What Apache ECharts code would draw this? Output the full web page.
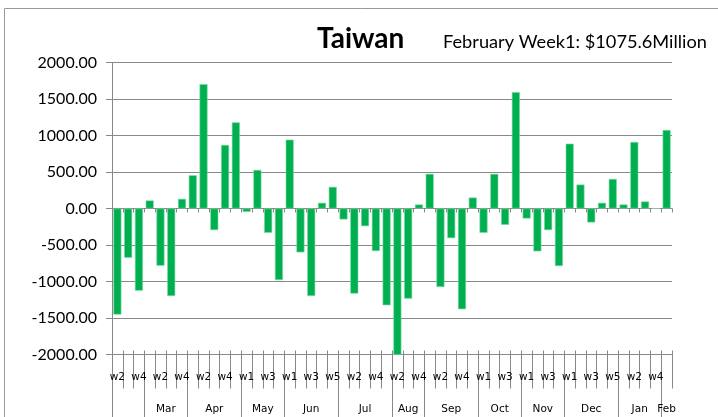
<!DOCTYPE html>
<html>
<head>
<meta charset="utf-8">
<title>Taiwan</title>
<script src="https://cdn.jsdelivr.net/npm/echarts@6/dist/echarts.min.js"></script>
<style>
  html, body { margin: 0; padding: 0; background: #fff; }
  #chart { width: 718px; height: 417px; }
</style>
</head>
<body>
<div id="chart"></div>
<script>
  // week labels, one bar per week
  var weeks = [
    'w2', 'w3', 'w4',
    'w1', 'w2', 'w3', 'w4',
    'w1', 'w2', 'w3', 'w4', 'w5',
    'w1', 'w2', 'w3', 'w4',
    'w1', 'w2', 'w3', 'w4', 'w5',
    'w1', 'w2', 'w3', 'w4', 'w5',
    'w2', 'w3', 'w4',
    'w1', 'w2', 'w3', 'w4', 'w5',
    'w1', 'w2', 'w3', 'w4',
    'w1', 'w2', 'w3', 'w4',
    'w1', 'w2', 'w3', 'w4', 'w5',
    'w1', 'w2', 'w3', 'w4',
    'w1'
  ]
  // month group labels and how many weeks each one spans
  var months = ['', 'Mar', 'Apr', 'May', 'Jun', 'Jul', 'Aug', 'Sep', 'Oct', 'Nov', 'Dec', 'Jan', 'Feb']
  var monthSpan = [3, 4, 5, 4, 5, 5, 3, 5, 4, 4, 5, 4, 1]
  // weekly values ($ million)
  var values = [
    -1453, -675, -1126,
    110, -784, -1199, 132,
    455, 1704, -296, 870, 1180,
    -46, 528, -333, -980,
    943, -601, -1199, 78, 296,
    -150, -1166, -242, -583, -1325,
    -2022, -1235, 55,
    474, -1075, -406, -1380, 150,
    -333, 474, -224, 1594,
    -137, -587, -296, -788,
    888, 328, -191, 78, 405,
    55, 911, 96, 0,
    1075.6
  ]
  var yMin = -2000
  var yMax = 2000
  var yStep = 500

  // month axis: 2 slots per week so labels can sit in the middle of each group
  var monthAxis = []
  var monthEdges = []
  for (var k = 0; k <= weeks.length * 2; k++) monthAxis.push('')
  var pos = 0
  months.forEach(function (m, i) {
    monthEdges.push(pos * 2)
    monthAxis[pos * 2 + monthSpan[i]] = m
    pos += monthSpan[i]
  })
  // week boundaries on the same 2-slot axis
  var weekEdges = []
  for (var j = 0; j <= weeks.length; j++) weekEdges.push(j * 2)

  var gray = '#888888'
  var font = 'Lato, "Noto Sans", sans-serif'
  var smallFont = '"DejaVu Sans", sans-serif'

  // helper for the extra tick-only axes
  function tickAxis(len, inside, onZero, edges) {
    return {
      type: 'category',
      data: monthAxis,
      boundaryGap: false,
      position: 'bottom',
      axisLine: { show: onZero, onZero: onZero, lineStyle: { color: gray } },
      axisTick: {
        show: true,
        inside: inside,
        length: len,
        interval: function (index) { return edges.indexOf(index) > -1 },
        lineStyle: { color: gray }
      },
      axisLabel: { show: false },
      splitLine: { show: false }
    }
  }

  var option = {
    animation: false,
    graphic: [{
      type: 'rect',
      shape: { x: 4.5, y: 8.5, width: 730, height: 430 },
      style: { fill: 'none', stroke: '#999', lineWidth: 1 }
    }],
    title: [{
      text: 'Taiwan',
      left: 312,
      top: 20,
      textStyle: { fontFamily: font, fontSize: 28, fontWeight: 'bold', color: '#000' }
    }, {
      text: 'February Week1: $1075.6Million',
      left: 438,
      top: 28,
      textStyle: { fontFamily: font, fontSize: 18.2, fontWeight: 'normal', color: '#000' }
    }],
    grid: {
      left: 112,
      right: 46,
      top: 62.5,
      bottom: 62.5,
      containLabel: false,
      outerBoundsMode: 'none'
    },
    xAxis: [{
      // bar axis, also carries the week labels at the bottom
      type: 'category',
      data: weeks,
      position: 'bottom',
      axisLine: { show: true, onZero: false, lineStyle: { color: gray } },
      axisTick: { show: false },
      axisLabel: { interval: 1, margin: 17, fontFamily: smallFont, fontSize: 10.5, color: '#000' },
      splitLine: { show: false }
    },
      tickAxis(4, false, true, weekEdges),   // zero line ticks, below
      tickAxis(4, true, true, weekEdges),    // zero line ticks, above
      tickAxis(34, false, false, weekEdges), // week separators
      tickAxis(3, true, false, weekEdges),
    {
      // month labels and separators
      type: 'category',
      data: monthAxis,
      boundaryGap: false,
      position: 'bottom',
      axisLine: { show: false, onZero: false },
      axisTick: {
        show: true,
        length: 63,
        interval: function (index) { return monthEdges.indexOf(index) > -1 },
        lineStyle: { color: gray }
      },
      axisLabel: { interval: 0, margin: 49, fontFamily: smallFont, fontSize: 10.5, color: '#000' },
      splitLine: { show: false }
    }],
    yAxis: {
      type: 'value',
      min: yMin,
      max: yMax,
      interval: yStep,
      axisLine: { show: true, lineStyle: { color: gray } },
      axisTick: { show: true, length: 6, lineStyle: { color: gray } },
      axisLabel: {
        margin: 15,
        fontFamily: font,
        fontSize: 16,
        color: '#000',
        formatter: function (v) { return v.toFixed(2) }
      },
      splitLine: { lineStyle: { color: gray, width: 1 } }
    },
    series: [{
      type: 'bar',
      xAxisIndex: 0,
      data: values,
      barWidth: 8,
      itemStyle: { color: '#00b050', borderColor: '#7ed6a3', borderWidth: 0.6 }
    }]
  }

  var myChart = echarts.init(document.getElementById('chart'))
  myChart.setOption(option)
</script>
</body>
</html>
